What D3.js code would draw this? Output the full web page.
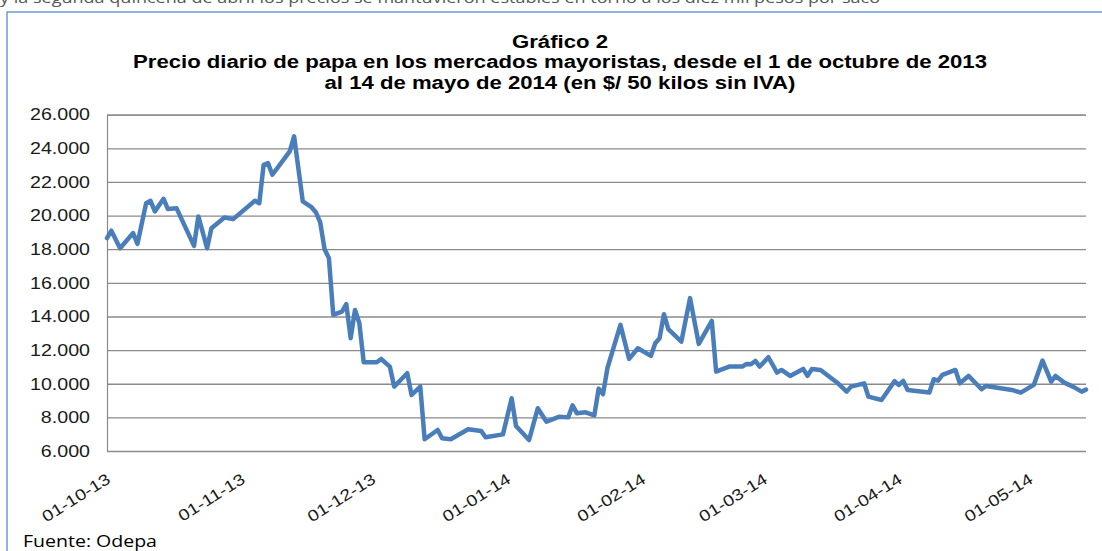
<!DOCTYPE html>
<html>
<head>
<meta charset="utf-8">
<script src="https://cdn.jsdelivr.net/npm/d3@7"></script>
<style>
body { margin: 0; background: #fff; }
svg { display: block; }
</style>
</head>
<body>
<script>
// precios diarios ($/50 kg sin IVA)
var fechas = ["2013-10-01","2013-10-02","2013-10-04","2013-10-07","2013-10-08","2013-10-10","2013-10-11","2013-10-12",
  "2013-10-14","2013-10-15","2013-10-17","2013-10-21","2013-10-22","2013-10-24","2013-10-25","2013-10-28","2013-10-30",
  "2013-11-04","2013-11-05","2013-11-06","2013-11-07","2013-11-08","2013-11-12","2013-11-13","2013-11-15","2013-11-17",
  "2013-11-18","2013-11-19","2013-11-20","2013-11-21","2013-11-22","2013-11-24","2013-11-25","2013-11-26","2013-11-27",
  "2013-11-28","2013-11-29","2013-12-02","2013-12-03","2013-12-05","2013-12-06","2013-12-09","2013-12-10","2013-12-12",
  "2013-12-13","2013-12-16","2013-12-17","2013-12-19","2013-12-23","2013-12-26","2013-12-27","2013-12-31",
  "2014-01-02","2014-01-03","2014-01-06","2014-01-08","2014-01-10","2014-01-13","2014-01-15","2014-01-16","2014-01-17",
  "2014-01-19","2014-01-21","2014-01-22","2014-01-23","2014-01-24","2014-01-27","2014-01-29","2014-01-31",
  "2014-02-03","2014-02-04","2014-02-05","2014-02-06","2014-02-07","2014-02-10","2014-02-12","2014-02-14","2014-02-17",
  "2014-02-18","2014-02-19","2014-02-21","2014-02-24","2014-02-25","2014-02-26","2014-02-27","2014-02-28",
  "2014-03-02","2014-03-04","2014-03-05","2014-03-07","2014-03-10","2014-03-11","2014-03-12","2014-03-14","2014-03-17",
  "2014-03-18","2014-03-20","2014-03-21","2014-03-24","2014-03-25","2014-03-28","2014-03-31",
  "2014-04-01","2014-04-02","2014-04-03","2014-04-08","2014-04-09","2014-04-10","2014-04-11","2014-04-14","2014-04-15",
  "2014-04-17","2014-04-20","2014-04-21","2014-04-27","2014-04-29",
  "2014-05-02","2014-05-04","2014-05-06","2014-05-07","2014-05-09","2014-05-11","2014-05-13","2014-05-14"];

var precios = [18660,19100,18060,18960,18320,20740,20880,20250,
  21000,20390,20430,18200,19950,18060,19250,19890,19790,
  20880,20740,23020,23120,22430,23815,24710,20840,20500,
  20200,19600,18000,17470,14100,14290,14730,12710,14390,
  13600,11280,11280,11475,11020,9830,10625,9330,9830,
  6700,7250,6755,6700,7290,7190,6815,6990,
  9135,7490,6655,8540,7745,8040,8000,8720,8240,
  8300,8120,9710,9375,10920,13500,11475,12110,
  11655,12410,12710,14135,13245,12505,15090,12370,13740,
  10720,10820,11020,11020,11180,11160,11355,11020,
  11575,10660,10820,10465,10880,10465,10880,10820,10225,
  10025,9530,9830,10025,9230,9035,10150,
  9930,10165,9630,9475,10270,10185,10525,10820,10025,
  10465,9670,9870,9630,9470,
  9930,11375,10125,10465,10065,9830,9530,9650];

var yTicks = [6000,8000,10000,12000,14000,16000,18000,20000,22000,24000,26000];
var mesTicks = ["2013-10-01","2013-11-01","2013-12-01","2014-01-01","2014-02-01","2014-03-01","2014-04-01","2014-05-01"];
var rangoFechas = ["2013-10-01","2014-05-14"];

var titulo = ["Gráfico 2",
  "Precio diario de papa en los mercados mayoristas, desde el 1 de octubre de 2013",
  "al 14 de mayo de 2014 (en $/ 50 kilos sin IVA)"];
var fuente = "Fuente: Odepa";
var textoPrevio = "y la segunda quincena de abril los precios se mantuvieron estables en torno a los diez mil pesos por saco";

var width = 1102
var height = 551
var margin = {top: 114.7, right: 16, bottom: 100, left: 107}

var parse = d3.timeParse("%Y-%m-%d");
var datos = fechas.map(function(f, i){ return {fecha: parse(f), precio: precios[i]}; });

var es = d3.formatLocale({decimal: ",", thousands: ".", grouping: [3], currency: ["$", ""]});
var fmt = es.format(",.0f");

var svg = d3.select("body")
	.append("svg")
	.attr("width", width)
	.attr("height", height);

// estira el texto en horizontal como en la imagen original
function estirar(sel, k) {
	sel.each(function(){
		var w = this.getComputedTextLength();
		d3.select(this).attr("textLength", w * k).attr("lengthAdjust", "spacingAndGlyphs");
	});
}

// texto cortado del documento arriba
svg.append("text")
	.attr("x", 0)
	.attr("y", 3)
	.style("font-family", "Open Sans")
	.style("font-size", "14px")
	.attr("fill", "#555")
	.attr("textLength", 880)
	.attr("lengthAdjust", "spacingAndGlyphs")
	.text(textoPrevio);

// marco del grafico
svg.append("path")
	.attr("d", "M7," + height + "V12H" + width)
	.attr("fill", "none")
	.attr("stroke", "#6f9bd4")
	.attr("stroke-width", 1.5);

var x = d3.scaleTime()
	.domain(rangoFechas.map(parse))
	.range([margin.left, width - margin.right]);

var y = d3.scaleLinear()
	.domain([6000, 26000])
	.range([height - margin.bottom, margin.top]);

// eje y + grilla
var gy = svg.append("g")
	.attr("transform", "translate(" + margin.left + ",0)")
	.call(d3.axisLeft(y)
		.tickValues(yTicks)
		.tickSize(-(width - margin.right - margin.left))
		.tickPadding(17)
		.tickFormat(fmt));
gy.select(".domain").attr("stroke", "#8a8a8a").attr("stroke-width", 1.2);
gy.selectAll(".tick line").attr("stroke", "#8a8a8a").attr("stroke-width", 1.3);
gy.selectAll(".tick text")
	.style("font-family", "Liberation Sans, Arial, sans-serif")
	.style("font-size", "16.5px")
	.attr("fill", "#1a1a1a")
	.call(estirar, 1.19);

// eje x
var gx = svg.append("g")
	.attr("transform", "translate(0," + (height - margin.bottom) + ")")
	.call(d3.axisBottom(x)
		.tickValues(mesTicks.map(parse))
		.tickSize(0)
		.tickFormat(d3.timeFormat("%d-%m-%y")));
gx.select(".domain").remove();
gx.selectAll(".tick text")
	.style("font-family", "Liberation Sans, Arial, sans-serif")
	.style("font-size", "16px")
	.attr("fill", "#1a1a1a")
	.attr("text-anchor", "end")
	.attr("dy", null)
	.attr("y", 0)
	.attr("transform", "translate(4,31) rotate(-32)")
	.call(estirar, 1.2);

// linea de precios
var linea = d3.line()
	.x(function(d){ return x(d.fecha); })
	.y(function(d){ return y(d.precio); });

svg.append("path")
	.datum(datos)
	.attr("d", linea)
	.attr("fill", "none")
	.attr("stroke", "#4a7ebb")
	.attr("stroke-width", 4.5)
	.attr("stroke-linejoin", "round")
	.attr("stroke-linecap", "round");

// titulos
var baseTitulo = [48, 67.5, 89];
svg.selectAll("text.titulo")
	.data(titulo)
	.enter()
	.append("text")
	.attr("class", "titulo")
	.attr("x", 560)
	.attr("y", function(d, i){ return baseTitulo[i]; })
	.attr("text-anchor", "middle")
	.style("font-family", "Liberation Sans, Arial, sans-serif")
	.style("font-weight", "bold")
	.style("font-size", "18px")
	.attr("fill", "#000")
	.text(function(d){ return d; })
	.call(estirar, 1.23);

svg.append("text")
	.attr("x", 23)
	.attr("y", 547)
	.style("font-family", "Open Sans")
	.style("font-size", "16px")
	.attr("fill", "#000")
	.text(fuente)
	.call(estirar, 1.22);
</script>
</body>
</html>
